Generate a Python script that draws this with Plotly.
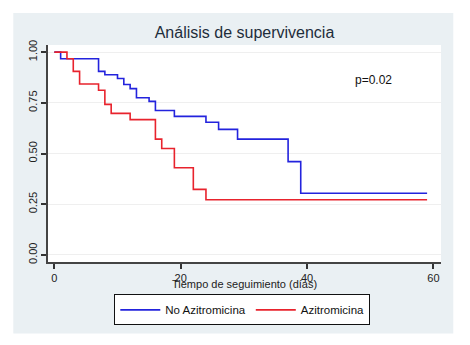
import plotly.graph_objects as go

# Kaplan-Meier step data
blue_t = [0, 1, 7, 8, 10, 11, 12, 13, 15, 16, 19, 24, 26, 29, 37, 39, 59]
blue_s = [1.0, 0.967, 0.905, 0.888, 0.870, 0.840, 0.820, 0.775, 0.757, 0.712, 0.683, 0.654, 0.619, 0.571, 0.460, 0.304, 0.304]
red_t = [0, 2, 3, 4, 7, 8, 9, 12, 16, 17, 19, 22, 24, 59]
red_s = [1.0, 0.967, 0.905, 0.843, 0.812, 0.742, 0.698, 0.667, 0.571, 0.525, 0.430, 0.323, 0.272, 0.272]

x_ticks = [0, 20, 40, 60]
y_ticks = [0.0, 0.25, 0.5, 0.75, 1.0]
y_ticklabels = ["0.00", "0.25", "0.50", "0.75", "1.00"]
series_names = ["No Azitromicina", "Azitromicina"]

OFF = 8  # default page body margin
W, H = 470 - OFF, 345 - OFF
# plot area in page pixels
PL, PR, PT, PB = 47.7, 440.7, 45, 261.7
L, T = PL - OFF, PT - OFF
R, B = W - (PR - OFF), H - (PB - OFF)
pw, ph = PR - PL, PB - PT

def px_x(x):
    return (x - PL) / pw

def px_y(y):
    return (PB - y) / ph

fig = go.Figure()
fig.add_trace(go.Scatter(x=blue_t, y=blue_s, mode="lines", line_shape="hv",
                         line=dict(color="#2323dd", width=1.6), name=series_names[0]))
fig.add_trace(go.Scatter(x=red_t, y=red_s, mode="lines", line_shape="hv",
                         line=dict(color="#e8232d", width=1.6), name=series_names[1]))

fig.update_layout(
    width=W, height=H,
    margin=dict(l=L, r=R, t=T, b=B, autoexpand=False),
    paper_bgcolor="white",
    plot_bgcolor="white",
    font=dict(family="Liberation Sans, Arial, sans-serif", color="#222222", size=11),
    title=dict(text="Análisis de supervivencia", x=0.5, xref="paper", xanchor="center",
               y=1 - (32 - OFF) / H, yref="container", yanchor="middle",
               font=dict(size=16, color="#1e2d3b")),
    showlegend=True,
    legend=dict(orientation="h", x=px_x(114), xanchor="left", y=px_y(294), yanchor="top",
                bgcolor="white", bordercolor="#111111", borderwidth=1,
                font=dict(size=11.5, color="#111111"),
                tracegroupgap=0, itemwidth=40),
    shapes=[
        dict(type="rect", xref="paper", yref="paper", layer="below",
             x0=px_x(13), x1=px_x(453), y0=px_y(333), y1=px_y(13),
             fillcolor="#eaf0f3", line=dict(width=0)),
        dict(type="rect", xref="paper", yref="paper", layer="below",
             x0=0, x1=1, y0=0, y1=1, fillcolor="white", line=dict(width=0)),
    ],
    annotations=[
        dict(text="p=0.02", x=50.5, y=0.862, xref="x", yref="y", showarrow=False,
             font=dict(size=12, color="#111111")),
        dict(text="Tiempo de seguimiento (días)", x=0.5, y=px_y(284), xref="paper", yref="paper",
             showarrow=False, yanchor="middle", font=dict(size=11, color="#222222")),
    ],
)

fig.update_xaxes(range=[-1.0, 61.2], tickvals=x_ticks, ticks="outside", ticklen=5, tickwidth=1.5,
                 tickcolor="#333333", showline=True, linecolor="#444444", linewidth=2,
                 showgrid=False, zeroline=False, tickfont=dict(size=11, color="#222222"))
fig.update_yaxes(range=[-0.035, 1.035], tickvals=y_ticks, ticktext=y_ticklabels, tickangle=-90,
                 ticks="outside", ticklen=5, tickwidth=1.5, tickcolor="#333333",
                 showline=True, linecolor="#444444", linewidth=2,
                 showgrid=True, gridcolor="#efefef", gridwidth=1, zeroline=False,
                 tickfont=dict(size=11, color="#222222"))

fig.write_html("out.html")
